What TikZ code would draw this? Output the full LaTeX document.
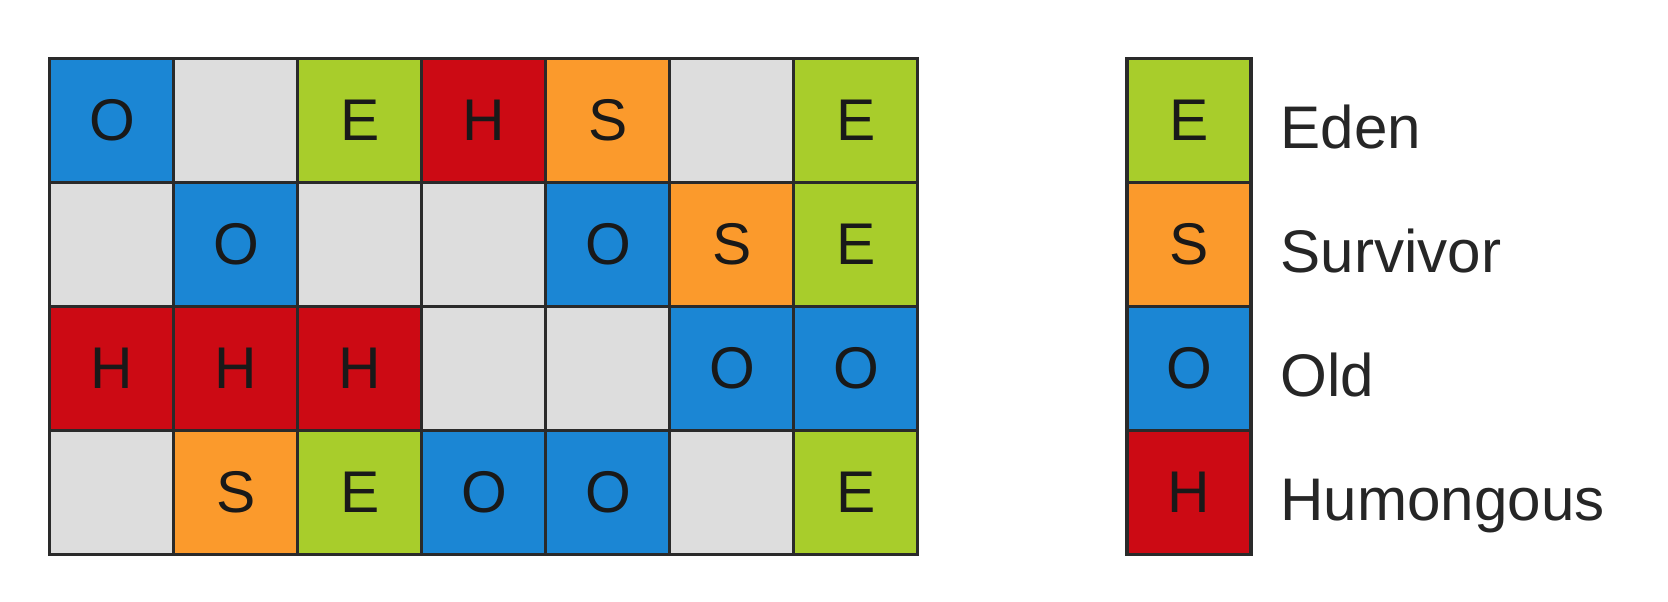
\documentclass[tikz,border=0pt]{standalone}
\usepackage{fontspec}
\setmainfont{Liberation Sans}
\usepackage{tikz}
\usetikzlibrary{positioning}

\definecolor{edengreen}{HTML}{A8CD2B}
\definecolor{survorange}{HTML}{FB9A2C}
\definecolor{oldblue}{HTML}{1B86D4}
\definecolor{humred}{HTML}{CC0A14}
\definecolor{freegray}{HTML}{DDDDDD}
\definecolor{edgedark}{HTML}{2A2A2A}

\tikzset{
	cell/.style={rectangle, draw=edgedark, line width=0.7pt, minimum size=1cm, inner sep=0pt, outer sep=0pt, font=\fontsize{13.5}{15}\selectfont, text=black!90},
	eden/.style={cell, fill=edengreen},
	surv/.style={cell, fill=survorange},
	old/.style={cell, fill=oldblue},
	humo/.style={cell, fill=humred},
	free/.style={cell, fill=freegray},
	label/.style={anchor=base west, inner sep=0pt, font=\fontsize{13.8}{16}\selectfont, text=black!85}
}

\begin{document}
\begin{tikzpicture}
		\useasboundingbox (0,0) rectangle (13.452,-4.855);
		% row 1
		\node[old]  (a1) at (0.903,-0.972) {O};
		\node[free] (a2) at (1.903,-0.972) {};
		\node[eden] (a3) at (2.903,-0.972) {E};
		\node[humo] (a4) at (3.903,-0.972) {H};
		\node[surv] (a5) at (4.903,-0.972) {S};
		\node[free] (a6) at (5.903,-0.972) {};
		\node[eden] (a7) at (6.903,-0.972) {E};
		% row 2
		\node[free] (b1) at (0.903,-1.972) {};
		\node[old]  (b2) at (1.903,-1.972) {O};
		\node[free] (b3) at (2.903,-1.972) {};
		\node[free] (b4) at (3.903,-1.972) {};
		\node[old]  (b5) at (4.903,-1.972) {O};
		\node[surv] (b6) at (5.903,-1.972) {S};
		\node[eden] (b7) at (6.903,-1.972) {E};
		% row 3
		\node[humo] (c1) at (0.903,-2.972) {H};
		\node[humo] (c2) at (1.903,-2.972) {H};
		\node[humo] (c3) at (2.903,-2.972) {H};
		\node[free] (c4) at (3.903,-2.972) {};
		\node[free] (c5) at (4.903,-2.972) {};
		\node[old]  (c6) at (5.903,-2.972) {O};
		\node[old]  (c7) at (6.903,-2.972) {O};
		% row 4
		\node[free] (d1) at (0.903,-3.972) {};
		\node[surv] (d2) at (1.903,-3.972) {S};
		\node[eden] (d3) at (2.903,-3.972) {E};
		\node[old]  (d4) at (3.903,-3.972) {O};
		\node[old]  (d5) at (4.903,-3.972) {O};
		\node[free] (d6) at (5.903,-3.972) {};
		\node[eden] (d7) at (6.903,-3.972) {E};
		% legend
		\node[eden] (keyE) at (9.589,-0.972) {E};
		\node[surv] (keyS) at (9.589,-1.972) {S};
		\node[old]  (keyO) at (9.589,-2.972) {O};
		\node[humo] (keyH) at (9.589,-3.972) {H};
		\node[label] (txtE) at (10.32,-1.197) {Eden};
		\node[label] (txtS) at (10.32,-2.197) {Survivor};
		\node[label] (txtO) at (10.32,-3.197) {Old};
		\node[label] (txtH) at (10.32,-4.197) {Humongous};
	\end{tikzpicture}
\end{document}
